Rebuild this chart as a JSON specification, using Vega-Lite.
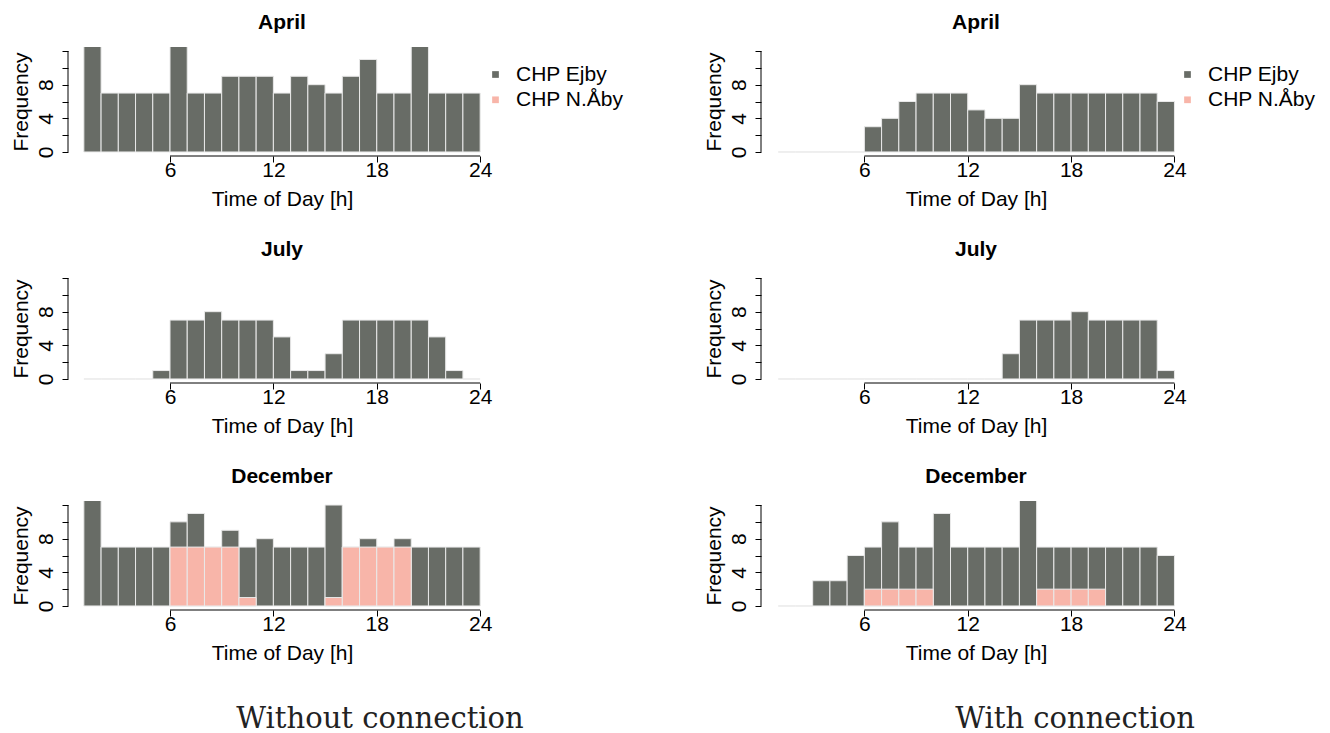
{
  "$schema": "https://vega.github.io/schema/vega-lite/v6.json",
  "background": "white",
  "padding": {"left": 9, "top": 12, "right": 0, "bottom": 0},
  "autosize": {"type": "pad"},
  "bounds": "flush",
  "spacing": 693,
  "resolve": {"scale": {"color": "independent"}},
  "config": {
    "font": "Liberation Sans",
    "view": {"stroke": null},
    "axis": {"labelFont": "Liberation Sans", "labelFontSize": 21, "labelColor": "black", "titleFont": "Liberation Sans", "titleFontSize": 21, "titleFontWeight": "normal", "titleColor": "black", "tickColor": "black", "tickSize": 6, "tickWidth": 1, "domain": false, "grid": false},
    "axisX": {"labelPadding": -3, "titlePadding": 8, "labelAngle": 0, "labelFlush": false, "labelOverlap": false},
    "axisY": {"labelAngle": 270, "labelAlign": "center", "labelBaseline": "alphabetic", "labelPadding": 10, "titlePadding": 4, "labelOverlap": false},
    "title": {"font": "Liberation Sans", "fontSize": 21, "fontWeight": "bold", "color": "black", "offset": 14, "baseline": "alphabetic", "anchor": "middle"},
    "legend": {"labelFont": "Liberation Sans", "labelFontSize": 21, "labelColor": "black", "symbolType": "square", "symbolSize": 45, "symbolStrokeWidth": 0, "labelOffset": 10, "rowPadding": 3.3, "padding": 0}
  },
  "datasets": {
    "hist": [
      {"panel": "without", "month": "April", "unit": "CHP Ejby", "from": 1, "to": 2, "count": 13},
      {"panel": "without", "month": "April", "unit": "CHP Ejby", "from": 2, "to": 3, "count": 7},
      {"panel": "without", "month": "April", "unit": "CHP Ejby", "from": 3, "to": 4, "count": 7},
      {"panel": "without", "month": "April", "unit": "CHP Ejby", "from": 4, "to": 5, "count": 7},
      {"panel": "without", "month": "April", "unit": "CHP Ejby", "from": 5, "to": 6, "count": 7},
      {"panel": "without", "month": "April", "unit": "CHP Ejby", "from": 6, "to": 7, "count": 13},
      {"panel": "without", "month": "April", "unit": "CHP Ejby", "from": 7, "to": 8, "count": 7},
      {"panel": "without", "month": "April", "unit": "CHP Ejby", "from": 8, "to": 9, "count": 7},
      {"panel": "without", "month": "April", "unit": "CHP Ejby", "from": 9, "to": 10, "count": 9},
      {"panel": "without", "month": "April", "unit": "CHP Ejby", "from": 10, "to": 11, "count": 9},
      {"panel": "without", "month": "April", "unit": "CHP Ejby", "from": 11, "to": 12, "count": 9},
      {"panel": "without", "month": "April", "unit": "CHP Ejby", "from": 12, "to": 13, "count": 7},
      {"panel": "without", "month": "April", "unit": "CHP Ejby", "from": 13, "to": 14, "count": 9},
      {"panel": "without", "month": "April", "unit": "CHP Ejby", "from": 14, "to": 15, "count": 8},
      {"panel": "without", "month": "April", "unit": "CHP Ejby", "from": 15, "to": 16, "count": 7},
      {"panel": "without", "month": "April", "unit": "CHP Ejby", "from": 16, "to": 17, "count": 9},
      {"panel": "without", "month": "April", "unit": "CHP Ejby", "from": 17, "to": 18, "count": 11},
      {"panel": "without", "month": "April", "unit": "CHP Ejby", "from": 18, "to": 19, "count": 7},
      {"panel": "without", "month": "April", "unit": "CHP Ejby", "from": 19, "to": 20, "count": 7},
      {"panel": "without", "month": "April", "unit": "CHP Ejby", "from": 20, "to": 21, "count": 13},
      {"panel": "without", "month": "April", "unit": "CHP Ejby", "from": 21, "to": 22, "count": 7},
      {"panel": "without", "month": "April", "unit": "CHP Ejby", "from": 22, "to": 23, "count": 7},
      {"panel": "without", "month": "April", "unit": "CHP Ejby", "from": 23, "to": 24, "count": 7},

      {"panel": "without", "month": "July", "unit": "CHP Ejby", "from": 1, "to": 2, "count": 0},
      {"panel": "without", "month": "July", "unit": "CHP Ejby", "from": 2, "to": 3, "count": 0},
      {"panel": "without", "month": "July", "unit": "CHP Ejby", "from": 3, "to": 4, "count": 0},
      {"panel": "without", "month": "July", "unit": "CHP Ejby", "from": 4, "to": 5, "count": 0},
      {"panel": "without", "month": "July", "unit": "CHP Ejby", "from": 5, "to": 6, "count": 1},
      {"panel": "without", "month": "July", "unit": "CHP Ejby", "from": 6, "to": 7, "count": 7},
      {"panel": "without", "month": "July", "unit": "CHP Ejby", "from": 7, "to": 8, "count": 7},
      {"panel": "without", "month": "July", "unit": "CHP Ejby", "from": 8, "to": 9, "count": 8},
      {"panel": "without", "month": "July", "unit": "CHP Ejby", "from": 9, "to": 10, "count": 7},
      {"panel": "without", "month": "July", "unit": "CHP Ejby", "from": 10, "to": 11, "count": 7},
      {"panel": "without", "month": "July", "unit": "CHP Ejby", "from": 11, "to": 12, "count": 7},
      {"panel": "without", "month": "July", "unit": "CHP Ejby", "from": 12, "to": 13, "count": 5},
      {"panel": "without", "month": "July", "unit": "CHP Ejby", "from": 13, "to": 14, "count": 1},
      {"panel": "without", "month": "July", "unit": "CHP Ejby", "from": 14, "to": 15, "count": 1},
      {"panel": "without", "month": "July", "unit": "CHP Ejby", "from": 15, "to": 16, "count": 3},
      {"panel": "without", "month": "July", "unit": "CHP Ejby", "from": 16, "to": 17, "count": 7},
      {"panel": "without", "month": "July", "unit": "CHP Ejby", "from": 17, "to": 18, "count": 7},
      {"panel": "without", "month": "July", "unit": "CHP Ejby", "from": 18, "to": 19, "count": 7},
      {"panel": "without", "month": "July", "unit": "CHP Ejby", "from": 19, "to": 20, "count": 7},
      {"panel": "without", "month": "July", "unit": "CHP Ejby", "from": 20, "to": 21, "count": 7},
      {"panel": "without", "month": "July", "unit": "CHP Ejby", "from": 21, "to": 22, "count": 5},
      {"panel": "without", "month": "July", "unit": "CHP Ejby", "from": 22, "to": 23, "count": 1},
      {"panel": "without", "month": "July", "unit": "CHP Ejby", "from": 23, "to": 24, "count": 0},

      {"panel": "without", "month": "December", "unit": "CHP Ejby", "from": 1, "to": 2, "count": 13},
      {"panel": "without", "month": "December", "unit": "CHP Ejby", "from": 2, "to": 3, "count": 7},
      {"panel": "without", "month": "December", "unit": "CHP Ejby", "from": 3, "to": 4, "count": 7},
      {"panel": "without", "month": "December", "unit": "CHP Ejby", "from": 4, "to": 5, "count": 7},
      {"panel": "without", "month": "December", "unit": "CHP Ejby", "from": 5, "to": 6, "count": 7},
      {"panel": "without", "month": "December", "unit": "CHP Ejby", "from": 6, "to": 7, "count": 10},
      {"panel": "without", "month": "December", "unit": "CHP Ejby", "from": 7, "to": 8, "count": 11},
      {"panel": "without", "month": "December", "unit": "CHP Ejby", "from": 8, "to": 9, "count": 7},
      {"panel": "without", "month": "December", "unit": "CHP Ejby", "from": 9, "to": 10, "count": 9},
      {"panel": "without", "month": "December", "unit": "CHP Ejby", "from": 10, "to": 11, "count": 7},
      {"panel": "without", "month": "December", "unit": "CHP Ejby", "from": 11, "to": 12, "count": 8},
      {"panel": "without", "month": "December", "unit": "CHP Ejby", "from": 12, "to": 13, "count": 7},
      {"panel": "without", "month": "December", "unit": "CHP Ejby", "from": 13, "to": 14, "count": 7},
      {"panel": "without", "month": "December", "unit": "CHP Ejby", "from": 14, "to": 15, "count": 7},
      {"panel": "without", "month": "December", "unit": "CHP Ejby", "from": 15, "to": 16, "count": 12},
      {"panel": "without", "month": "December", "unit": "CHP Ejby", "from": 16, "to": 17, "count": 7},
      {"panel": "without", "month": "December", "unit": "CHP Ejby", "from": 17, "to": 18, "count": 8},
      {"panel": "without", "month": "December", "unit": "CHP Ejby", "from": 18, "to": 19, "count": 7},
      {"panel": "without", "month": "December", "unit": "CHP Ejby", "from": 19, "to": 20, "count": 8},
      {"panel": "without", "month": "December", "unit": "CHP Ejby", "from": 20, "to": 21, "count": 7},
      {"panel": "without", "month": "December", "unit": "CHP Ejby", "from": 21, "to": 22, "count": 7},
      {"panel": "without", "month": "December", "unit": "CHP Ejby", "from": 22, "to": 23, "count": 7},
      {"panel": "without", "month": "December", "unit": "CHP Ejby", "from": 23, "to": 24, "count": 7},

      {"panel": "with", "month": "April", "unit": "CHP Ejby", "from": 1, "to": 2, "count": 0},
      {"panel": "with", "month": "April", "unit": "CHP Ejby", "from": 2, "to": 3, "count": 0},
      {"panel": "with", "month": "April", "unit": "CHP Ejby", "from": 3, "to": 4, "count": 0},
      {"panel": "with", "month": "April", "unit": "CHP Ejby", "from": 4, "to": 5, "count": 0},
      {"panel": "with", "month": "April", "unit": "CHP Ejby", "from": 5, "to": 6, "count": 0},
      {"panel": "with", "month": "April", "unit": "CHP Ejby", "from": 6, "to": 7, "count": 3},
      {"panel": "with", "month": "April", "unit": "CHP Ejby", "from": 7, "to": 8, "count": 4},
      {"panel": "with", "month": "April", "unit": "CHP Ejby", "from": 8, "to": 9, "count": 6},
      {"panel": "with", "month": "April", "unit": "CHP Ejby", "from": 9, "to": 10, "count": 7},
      {"panel": "with", "month": "April", "unit": "CHP Ejby", "from": 10, "to": 11, "count": 7},
      {"panel": "with", "month": "April", "unit": "CHP Ejby", "from": 11, "to": 12, "count": 7},
      {"panel": "with", "month": "April", "unit": "CHP Ejby", "from": 12, "to": 13, "count": 5},
      {"panel": "with", "month": "April", "unit": "CHP Ejby", "from": 13, "to": 14, "count": 4},
      {"panel": "with", "month": "April", "unit": "CHP Ejby", "from": 14, "to": 15, "count": 4},
      {"panel": "with", "month": "April", "unit": "CHP Ejby", "from": 15, "to": 16, "count": 8},
      {"panel": "with", "month": "April", "unit": "CHP Ejby", "from": 16, "to": 17, "count": 7},
      {"panel": "with", "month": "April", "unit": "CHP Ejby", "from": 17, "to": 18, "count": 7},
      {"panel": "with", "month": "April", "unit": "CHP Ejby", "from": 18, "to": 19, "count": 7},
      {"panel": "with", "month": "April", "unit": "CHP Ejby", "from": 19, "to": 20, "count": 7},
      {"panel": "with", "month": "April", "unit": "CHP Ejby", "from": 20, "to": 21, "count": 7},
      {"panel": "with", "month": "April", "unit": "CHP Ejby", "from": 21, "to": 22, "count": 7},
      {"panel": "with", "month": "April", "unit": "CHP Ejby", "from": 22, "to": 23, "count": 7},
      {"panel": "with", "month": "April", "unit": "CHP Ejby", "from": 23, "to": 24, "count": 6},

      {"panel": "with", "month": "July", "unit": "CHP Ejby", "from": 1, "to": 2, "count": 0},
      {"panel": "with", "month": "July", "unit": "CHP Ejby", "from": 2, "to": 3, "count": 0},
      {"panel": "with", "month": "July", "unit": "CHP Ejby", "from": 3, "to": 4, "count": 0},
      {"panel": "with", "month": "July", "unit": "CHP Ejby", "from": 4, "to": 5, "count": 0},
      {"panel": "with", "month": "July", "unit": "CHP Ejby", "from": 5, "to": 6, "count": 0},
      {"panel": "with", "month": "July", "unit": "CHP Ejby", "from": 6, "to": 7, "count": 0},
      {"panel": "with", "month": "July", "unit": "CHP Ejby", "from": 7, "to": 8, "count": 0},
      {"panel": "with", "month": "July", "unit": "CHP Ejby", "from": 8, "to": 9, "count": 0},
      {"panel": "with", "month": "July", "unit": "CHP Ejby", "from": 9, "to": 10, "count": 0},
      {"panel": "with", "month": "July", "unit": "CHP Ejby", "from": 10, "to": 11, "count": 0},
      {"panel": "with", "month": "July", "unit": "CHP Ejby", "from": 11, "to": 12, "count": 0},
      {"panel": "with", "month": "July", "unit": "CHP Ejby", "from": 12, "to": 13, "count": 0},
      {"panel": "with", "month": "July", "unit": "CHP Ejby", "from": 13, "to": 14, "count": 0},
      {"panel": "with", "month": "July", "unit": "CHP Ejby", "from": 14, "to": 15, "count": 3},
      {"panel": "with", "month": "July", "unit": "CHP Ejby", "from": 15, "to": 16, "count": 7},
      {"panel": "with", "month": "July", "unit": "CHP Ejby", "from": 16, "to": 17, "count": 7},
      {"panel": "with", "month": "July", "unit": "CHP Ejby", "from": 17, "to": 18, "count": 7},
      {"panel": "with", "month": "July", "unit": "CHP Ejby", "from": 18, "to": 19, "count": 8},
      {"panel": "with", "month": "July", "unit": "CHP Ejby", "from": 19, "to": 20, "count": 7},
      {"panel": "with", "month": "July", "unit": "CHP Ejby", "from": 20, "to": 21, "count": 7},
      {"panel": "with", "month": "July", "unit": "CHP Ejby", "from": 21, "to": 22, "count": 7},
      {"panel": "with", "month": "July", "unit": "CHP Ejby", "from": 22, "to": 23, "count": 7},
      {"panel": "with", "month": "July", "unit": "CHP Ejby", "from": 23, "to": 24, "count": 1},

      {"panel": "with", "month": "December", "unit": "CHP Ejby", "from": 1, "to": 2, "count": 0},
      {"panel": "with", "month": "December", "unit": "CHP Ejby", "from": 2, "to": 3, "count": 0},
      {"panel": "with", "month": "December", "unit": "CHP Ejby", "from": 3, "to": 4, "count": 3},
      {"panel": "with", "month": "December", "unit": "CHP Ejby", "from": 4, "to": 5, "count": 3},
      {"panel": "with", "month": "December", "unit": "CHP Ejby", "from": 5, "to": 6, "count": 6},
      {"panel": "with", "month": "December", "unit": "CHP Ejby", "from": 6, "to": 7, "count": 7},
      {"panel": "with", "month": "December", "unit": "CHP Ejby", "from": 7, "to": 8, "count": 10},
      {"panel": "with", "month": "December", "unit": "CHP Ejby", "from": 8, "to": 9, "count": 7},
      {"panel": "with", "month": "December", "unit": "CHP Ejby", "from": 9, "to": 10, "count": 7},
      {"panel": "with", "month": "December", "unit": "CHP Ejby", "from": 10, "to": 11, "count": 11},
      {"panel": "with", "month": "December", "unit": "CHP Ejby", "from": 11, "to": 12, "count": 7},
      {"panel": "with", "month": "December", "unit": "CHP Ejby", "from": 12, "to": 13, "count": 7},
      {"panel": "with", "month": "December", "unit": "CHP Ejby", "from": 13, "to": 14, "count": 7},
      {"panel": "with", "month": "December", "unit": "CHP Ejby", "from": 14, "to": 15, "count": 7},
      {"panel": "with", "month": "December", "unit": "CHP Ejby", "from": 15, "to": 16, "count": 13},
      {"panel": "with", "month": "December", "unit": "CHP Ejby", "from": 16, "to": 17, "count": 7},
      {"panel": "with", "month": "December", "unit": "CHP Ejby", "from": 17, "to": 18, "count": 7},
      {"panel": "with", "month": "December", "unit": "CHP Ejby", "from": 18, "to": 19, "count": 7},
      {"panel": "with", "month": "December", "unit": "CHP Ejby", "from": 19, "to": 20, "count": 7},
      {"panel": "with", "month": "December", "unit": "CHP Ejby", "from": 20, "to": 21, "count": 7},
      {"panel": "with", "month": "December", "unit": "CHP Ejby", "from": 21, "to": 22, "count": 7},
      {"panel": "with", "month": "December", "unit": "CHP Ejby", "from": 22, "to": 23, "count": 7},
      {"panel": "with", "month": "December", "unit": "CHP Ejby", "from": 23, "to": 24, "count": 6},

      {"panel": "without", "month": "December", "unit": "CHP N.Åby", "from": 6, "to": 7, "count": 7},
      {"panel": "without", "month": "December", "unit": "CHP N.Åby", "from": 7, "to": 8, "count": 7},
      {"panel": "without", "month": "December", "unit": "CHP N.Åby", "from": 8, "to": 9, "count": 7},
      {"panel": "without", "month": "December", "unit": "CHP N.Åby", "from": 9, "to": 10, "count": 7},
      {"panel": "without", "month": "December", "unit": "CHP N.Åby", "from": 10, "to": 11, "count": 1},
      {"panel": "without", "month": "December", "unit": "CHP N.Åby", "from": 15, "to": 16, "count": 1},
      {"panel": "without", "month": "December", "unit": "CHP N.Åby", "from": 16, "to": 17, "count": 7},
      {"panel": "without", "month": "December", "unit": "CHP N.Åby", "from": 17, "to": 18, "count": 7},
      {"panel": "without", "month": "December", "unit": "CHP N.Åby", "from": 18, "to": 19, "count": 7},
      {"panel": "without", "month": "December", "unit": "CHP N.Åby", "from": 19, "to": 20, "count": 7},

      {"panel": "with", "month": "December", "unit": "CHP N.Åby", "from": 6, "to": 7, "count": 2},
      {"panel": "with", "month": "December", "unit": "CHP N.Åby", "from": 7, "to": 8, "count": 2},
      {"panel": "with", "month": "December", "unit": "CHP N.Åby", "from": 8, "to": 9, "count": 2},
      {"panel": "with", "month": "December", "unit": "CHP N.Åby", "from": 9, "to": 10, "count": 2},
      {"panel": "with", "month": "December", "unit": "CHP N.Åby", "from": 16, "to": 17, "count": 2},
      {"panel": "with", "month": "December", "unit": "CHP N.Åby", "from": 17, "to": 18, "count": 2},
      {"panel": "with", "month": "December", "unit": "CHP N.Åby", "from": 18, "to": 19, "count": 2},
      {"panel": "with", "month": "December", "unit": "CHP N.Åby", "from": 19, "to": 20, "count": 2}
    ]
  },
  "hconcat": [
    {
      "title": {"text": "Without connection", "orient": "bottom", "anchor": "start", "frame": "group", "align": "center", "dx": 312, "offset": 65, "font": "DejaVu Serif", "fontSize": 29, "fontWeight": "normal", "baseline": "alphabetic", "color": "#222222"},
      "bounds": "flush",
      "spacing": 118,
      "resolve": {"scale": {"color": "independent"}},
      "vconcat": [
        {
          "title": "April", "width": 428, "height": 109,
          "layer": [
            {"data": {"name": "hist"}, "transform": [{"filter": "datum.panel === 'without' && datum.month === 'April'"}],
             "mark": {"type": "bar", "clip": true, "stroke": "#e9e9e9", "strokeWidth": 1},
             "encoding": {
               "x": {"field": "from", "type": "quantitative", "scale": {"domain": [0.08, 24.92], "nice": false, "zero": false}, "axis": {"values": [6, 12, 18, 24], "title": "Time of Day [h]"}},
               "x2": {"field": "to"},
               "y": {"field": "count", "type": "quantitative", "stack": null, "scale": {"domain": [-0.48, 12.48], "nice": false, "zero": false}, "axis": {"values": [0, 2, 4, 6, 8, 10, 12], "title": "Frequency", "labelExpr": "datum.value % 4 === 0 && datum.value < 12 ? datum.label : ''"}},
               "y2": {"datum": 0},
               "color": {"field": "unit", "type": "nominal", "scale": {"domain": ["CHP Ejby", "CHP N.Åby"], "range": ["#686c66", "#f8b5a9"]}, "legend": {"title": null, "orient": "none", "legendX": 417, "legendY": 17}}
             }},
            {"data": {"values": [{}]}, "mark": {"type": "rule", "color": "black", "strokeWidth": 1}, "encoding": {"x": {"datum": 6, "type": "quantitative", "axis": {"values": [6, 12, 18, 24], "title": "Time of Day [h]"}}, "x2": {"datum": 24}, "y": {"datum": -0.48, "type": "quantitative", "axis": {"values": [0, 2, 4, 6, 8, 10, 12], "title": "Frequency", "labelExpr": "datum.value % 4 === 0 && datum.value < 12 ? datum.label : ''"}}}},
            {"data": {"values": [{}]}, "mark": {"type": "rule", "color": "black", "strokeWidth": 1}, "encoding": {"x": {"datum": 0.08, "type": "quantitative", "axis": {"values": [6, 12, 18, 24], "title": "Time of Day [h]"}}, "y": {"datum": 0, "type": "quantitative", "axis": {"values": [0, 2, 4, 6, 8, 10, 12], "title": "Frequency", "labelExpr": "datum.value % 4 === 0 && datum.value < 12 ? datum.label : ''"}}, "y2": {"datum": 12}}}
          ]
        },
        {
          "title": "July", "width": 428, "height": 109,
          "layer": [
            {"data": {"name": "hist"}, "transform": [{"filter": "datum.panel === 'without' && datum.month === 'July'"}],
             "mark": {"type": "bar", "clip": true, "stroke": "#e9e9e9", "strokeWidth": 1},
             "encoding": {
               "x": {"field": "from", "type": "quantitative", "scale": {"domain": [0.08, 24.92], "nice": false, "zero": false}, "axis": {"values": [6, 12, 18, 24], "title": "Time of Day [h]"}},
               "x2": {"field": "to"},
               "y": {"field": "count", "type": "quantitative", "stack": null, "scale": {"domain": [-0.48, 12.48], "nice": false, "zero": false}, "axis": {"values": [0, 2, 4, 6, 8, 10, 12], "title": "Frequency", "labelExpr": "datum.value % 4 === 0 && datum.value < 12 ? datum.label : ''"}},
               "y2": {"datum": 0},
               "color": {"field": "unit", "type": "nominal", "scale": {"domain": ["CHP Ejby", "CHP N.Åby"], "range": ["#686c66", "#f8b5a9"]}, "legend": null}
             }},
            {"data": {"values": [{}]}, "mark": {"type": "rule", "color": "black", "strokeWidth": 1}, "encoding": {"x": {"datum": 6, "type": "quantitative", "axis": {"values": [6, 12, 18, 24], "title": "Time of Day [h]"}}, "x2": {"datum": 24}, "y": {"datum": -0.48, "type": "quantitative", "axis": {"values": [0, 2, 4, 6, 8, 10, 12], "title": "Frequency", "labelExpr": "datum.value % 4 === 0 && datum.value < 12 ? datum.label : ''"}}}},
            {"data": {"values": [{}]}, "mark": {"type": "rule", "color": "black", "strokeWidth": 1}, "encoding": {"x": {"datum": 0.08, "type": "quantitative", "axis": {"values": [6, 12, 18, 24], "title": "Time of Day [h]"}}, "y": {"datum": 0, "type": "quantitative", "axis": {"values": [0, 2, 4, 6, 8, 10, 12], "title": "Frequency", "labelExpr": "datum.value % 4 === 0 && datum.value < 12 ? datum.label : ''"}}, "y2": {"datum": 12}}}
          ]
        },
        {
          "title": "December", "width": 428, "height": 109,
          "layer": [
            {"data": {"name": "hist"}, "transform": [{"filter": "datum.panel === 'without' && datum.month === 'December'"}],
             "mark": {"type": "bar", "clip": true, "stroke": "#e9e9e9", "strokeWidth": 1},
             "encoding": {
               "x": {"field": "from", "type": "quantitative", "scale": {"domain": [0.08, 24.92], "nice": false, "zero": false}, "axis": {"values": [6, 12, 18, 24], "title": "Time of Day [h]"}},
               "x2": {"field": "to"},
               "y": {"field": "count", "type": "quantitative", "stack": null, "scale": {"domain": [-0.48, 12.48], "nice": false, "zero": false}, "axis": {"values": [0, 2, 4, 6, 8, 10, 12], "title": "Frequency", "labelExpr": "datum.value % 4 === 0 && datum.value < 12 ? datum.label : ''"}},
               "y2": {"datum": 0},
               "color": {"field": "unit", "type": "nominal", "scale": {"domain": ["CHP Ejby", "CHP N.Åby"], "range": ["#686c66", "#f8b5a9"]}, "legend": null}
             }},
            {"data": {"values": [{}]}, "mark": {"type": "rule", "color": "black", "strokeWidth": 1}, "encoding": {"x": {"datum": 6, "type": "quantitative", "axis": {"values": [6, 12, 18, 24], "title": "Time of Day [h]"}}, "x2": {"datum": 24}, "y": {"datum": -0.48, "type": "quantitative", "axis": {"values": [0, 2, 4, 6, 8, 10, 12], "title": "Frequency", "labelExpr": "datum.value % 4 === 0 && datum.value < 12 ? datum.label : ''"}}}},
            {"data": {"values": [{}]}, "mark": {"type": "rule", "color": "black", "strokeWidth": 1}, "encoding": {"x": {"datum": 0.08, "type": "quantitative", "axis": {"values": [6, 12, 18, 24], "title": "Time of Day [h]"}}, "y": {"datum": 0, "type": "quantitative", "axis": {"values": [0, 2, 4, 6, 8, 10, 12], "title": "Frequency", "labelExpr": "datum.value % 4 === 0 && datum.value < 12 ? datum.label : ''"}}, "y2": {"datum": 12}}}
          ]
        }
      ]
    },
    {
      "title": {"text": "With connection", "orient": "bottom", "anchor": "start", "frame": "group", "align": "center", "dx": 314, "offset": 65, "font": "DejaVu Serif", "fontSize": 29, "fontWeight": "normal", "baseline": "alphabetic", "color": "#222222"},
      "bounds": "flush",
      "spacing": 118,
      "resolve": {"scale": {"color": "independent"}},
      "vconcat": [
        {
          "title": "April", "width": 430, "height": 109,
          "layer": [
            {"data": {"name": "hist"}, "transform": [{"filter": "datum.panel === 'with' && datum.month === 'April'"}],
             "mark": {"type": "bar", "clip": true, "stroke": "#e9e9e9", "strokeWidth": 1},
             "encoding": {
               "x": {"field": "from", "type": "quantitative", "scale": {"domain": [0, 24.96], "nice": false, "zero": false}, "axis": {"values": [6, 12, 18, 24], "title": "Time of Day [h]"}},
               "x2": {"field": "to"},
               "y": {"field": "count", "type": "quantitative", "stack": null, "scale": {"domain": [-0.48, 12.48], "nice": false, "zero": false}, "axis": {"values": [0, 2, 4, 6, 8, 10, 12], "title": "Frequency", "labelExpr": "datum.value % 4 === 0 && datum.value < 12 ? datum.label : ''"}},
               "y2": {"datum": 0},
               "color": {"field": "unit", "type": "nominal", "scale": {"domain": ["CHP Ejby", "CHP N.Åby"], "range": ["#686c66", "#f8b5a9"]}, "legend": {"title": null, "orient": "none", "legendX": 416, "legendY": 17}}
             }},
            {"data": {"values": [{}]}, "mark": {"type": "rule", "color": "black", "strokeWidth": 1}, "encoding": {"x": {"datum": 6, "type": "quantitative", "axis": {"values": [6, 12, 18, 24], "title": "Time of Day [h]"}}, "x2": {"datum": 24}, "y": {"datum": -0.48, "type": "quantitative", "axis": {"values": [0, 2, 4, 6, 8, 10, 12], "title": "Frequency", "labelExpr": "datum.value % 4 === 0 && datum.value < 12 ? datum.label : ''"}}}},
            {"data": {"values": [{}]}, "mark": {"type": "rule", "color": "black", "strokeWidth": 1}, "encoding": {"x": {"datum": 0, "type": "quantitative", "axis": {"values": [6, 12, 18, 24], "title": "Time of Day [h]"}}, "y": {"datum": 0, "type": "quantitative", "axis": {"values": [0, 2, 4, 6, 8, 10, 12], "title": "Frequency", "labelExpr": "datum.value % 4 === 0 && datum.value < 12 ? datum.label : ''"}}, "y2": {"datum": 12}}}
          ]
        },
        {
          "title": "July", "width": 430, "height": 109,
          "layer": [
            {"data": {"name": "hist"}, "transform": [{"filter": "datum.panel === 'with' && datum.month === 'July'"}],
             "mark": {"type": "bar", "clip": true, "stroke": "#e9e9e9", "strokeWidth": 1},
             "encoding": {
               "x": {"field": "from", "type": "quantitative", "scale": {"domain": [0, 24.96], "nice": false, "zero": false}, "axis": {"values": [6, 12, 18, 24], "title": "Time of Day [h]"}},
               "x2": {"field": "to"},
               "y": {"field": "count", "type": "quantitative", "stack": null, "scale": {"domain": [-0.48, 12.48], "nice": false, "zero": false}, "axis": {"values": [0, 2, 4, 6, 8, 10, 12], "title": "Frequency", "labelExpr": "datum.value % 4 === 0 && datum.value < 12 ? datum.label : ''"}},
               "y2": {"datum": 0},
               "color": {"field": "unit", "type": "nominal", "scale": {"domain": ["CHP Ejby", "CHP N.Åby"], "range": ["#686c66", "#f8b5a9"]}, "legend": null}
             }},
            {"data": {"values": [{}]}, "mark": {"type": "rule", "color": "black", "strokeWidth": 1}, "encoding": {"x": {"datum": 6, "type": "quantitative", "axis": {"values": [6, 12, 18, 24], "title": "Time of Day [h]"}}, "x2": {"datum": 24}, "y": {"datum": -0.48, "type": "quantitative", "axis": {"values": [0, 2, 4, 6, 8, 10, 12], "title": "Frequency", "labelExpr": "datum.value % 4 === 0 && datum.value < 12 ? datum.label : ''"}}}},
            {"data": {"values": [{}]}, "mark": {"type": "rule", "color": "black", "strokeWidth": 1}, "encoding": {"x": {"datum": 0, "type": "quantitative", "axis": {"values": [6, 12, 18, 24], "title": "Time of Day [h]"}}, "y": {"datum": 0, "type": "quantitative", "axis": {"values": [0, 2, 4, 6, 8, 10, 12], "title": "Frequency", "labelExpr": "datum.value % 4 === 0 && datum.value < 12 ? datum.label : ''"}}, "y2": {"datum": 12}}}
          ]
        },
        {
          "title": "December", "width": 430, "height": 109,
          "layer": [
            {"data": {"name": "hist"}, "transform": [{"filter": "datum.panel === 'with' && datum.month === 'December'"}],
             "mark": {"type": "bar", "clip": true, "stroke": "#e9e9e9", "strokeWidth": 1},
             "encoding": {
               "x": {"field": "from", "type": "quantitative", "scale": {"domain": [0, 24.96], "nice": false, "zero": false}, "axis": {"values": [6, 12, 18, 24], "title": "Time of Day [h]"}},
               "x2": {"field": "to"},
               "y": {"field": "count", "type": "quantitative", "stack": null, "scale": {"domain": [-0.48, 12.48], "nice": false, "zero": false}, "axis": {"values": [0, 2, 4, 6, 8, 10, 12], "title": "Frequency", "labelExpr": "datum.value % 4 === 0 && datum.value < 12 ? datum.label : ''"}},
               "y2": {"datum": 0},
               "color": {"field": "unit", "type": "nominal", "scale": {"domain": ["CHP Ejby", "CHP N.Åby"], "range": ["#686c66", "#f8b5a9"]}, "legend": null}
             }},
            {"data": {"values": [{}]}, "mark": {"type": "rule", "color": "black", "strokeWidth": 1}, "encoding": {"x": {"datum": 6, "type": "quantitative", "axis": {"values": [6, 12, 18, 24], "title": "Time of Day [h]"}}, "x2": {"datum": 24}, "y": {"datum": -0.48, "type": "quantitative", "axis": {"values": [0, 2, 4, 6, 8, 10, 12], "title": "Frequency", "labelExpr": "datum.value % 4 === 0 && datum.value < 12 ? datum.label : ''"}}}},
            {"data": {"values": [{}]}, "mark": {"type": "rule", "color": "black", "strokeWidth": 1}, "encoding": {"x": {"datum": 0, "type": "quantitative", "axis": {"values": [6, 12, 18, 24], "title": "Time of Day [h]"}}, "y": {"datum": 0, "type": "quantitative", "axis": {"values": [0, 2, 4, 6, 8, 10, 12], "title": "Frequency", "labelExpr": "datum.value % 4 === 0 && datum.value < 12 ? datum.label : ''"}}, "y2": {"datum": 12}}}
          ]
        }
      ]
    }
  ]
}
